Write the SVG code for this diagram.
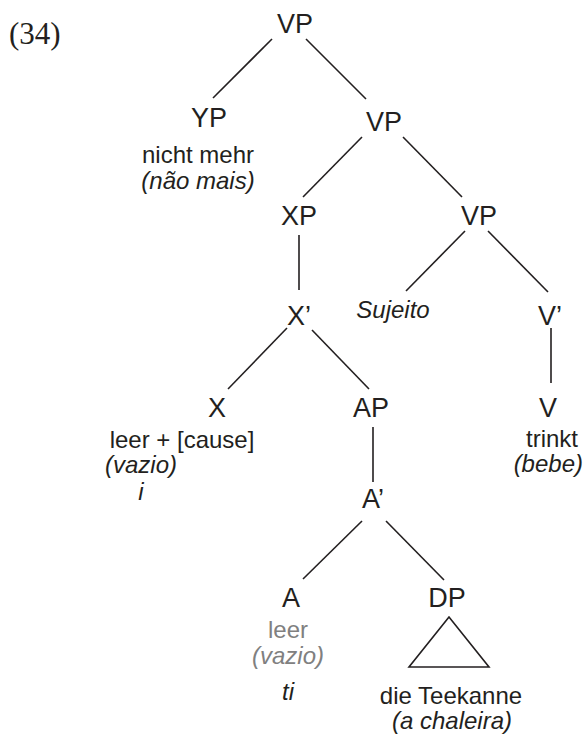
<svg xmlns="http://www.w3.org/2000/svg" width="586" height="735" viewBox="0 0 586 735">
<style>
  .lbl { font-family: "Liberation Sans", Arial, sans-serif; font-size: 27px; fill: #231f20; text-anchor: middle; }
  .sub { font-family: "Liberation Sans", Arial, sans-serif; font-size: 24px; fill: #231f20; text-anchor: middle; }
  .it { font-style: italic; }
  .gray { fill: #808080; }
  .num { font-family: "Liberation Serif", "Times New Roman", serif; font-size: 31px; fill: #231f20; }
  .edges line, .edges polygon { stroke: #231f20; stroke-width: 1.6; fill: none; }
</style>
<rect width="586" height="735" fill="#ffffff"/>
<text class="num" x="9" y="44">(34)</text>
<g class="edges" id="connectors">
  <line x1="272" y1="39" x2="213" y2="98"/>
  <line x1="306" y1="39" x2="366" y2="99"/>
  <line x1="362" y1="137" x2="303" y2="197"/>
  <line x1="403" y1="137" x2="462" y2="197"/>
  <line x1="299" y1="235" x2="299" y2="290"/>
  <line x1="465" y1="231" x2="406" y2="291"/>
  <line x1="488" y1="231" x2="548" y2="292"/>
  <line x1="551" y1="328" x2="551" y2="383"/>
  <line x1="287" y1="328" x2="228" y2="389"/>
  <line x1="312" y1="330" x2="369" y2="389"/>
  <line x1="373" y1="427" x2="373" y2="482"/>
  <line x1="362" y1="521" x2="303" y2="579"/>
  <line x1="386" y1="521" x2="444" y2="580"/>
  <polygon points="449,617 409,667 489,667"/>
</g>
<g id="vp1"><text class="lbl" x="295" y="33">VP</text></g>
<g id="yp">
  <text class="lbl" x="209" y="127">YP</text>
  <text class="sub" x="198" y="163">nicht mehr</text>
  <text class="sub it" x="198" y="189">(não mais)</text>
</g>
<g id="vp2"><text class="lbl" x="384" y="131">VP</text></g>
<g id="xp"><text class="lbl" x="299" y="225">XP</text></g>
<g id="vp3"><text class="lbl" x="479" y="225">VP</text></g>
<g id="xbar"><text class="lbl" x="299" y="325">X’</text></g>
<g id="sujeito"><text class="sub it" x="393" y="318">Sujeito</text></g>
<g id="vbar"><text class="lbl" x="550" y="325">V’</text></g>
<g id="x">
  <text class="lbl" x="217" y="417">X</text>
  <text class="sub" x="182" y="448">leer + [cause]</text>
  <text class="sub it" x="141" y="473">(vazio)</text>
  <text class="sub it" x="141" y="500">i</text>
</g>
<g id="ap"><text class="lbl" x="371" y="417">AP</text></g>
<g id="v">
  <text class="lbl" x="548" y="417">V</text>
  <text class="sub" x="552" y="447">trinkt</text>
  <text class="sub it" x="583" y="472" style="text-anchor:end">(bebe)</text>
</g>
<g id="abar"><text class="lbl" x="373" y="508">A’</text></g>
<g id="a">
  <text class="lbl" x="291" y="607">A</text>
  <text class="sub gray" x="288" y="638">leer</text>
  <text class="sub it gray" x="288" y="664">(vazio)</text>
  <text class="sub it" x="288" y="700">ti</text>
</g>
<g id="dp">
  <text class="lbl" x="447" y="607">DP</text>
  <text class="sub" x="451" y="704">die Teekanne</text>
  <text class="sub it" x="452" y="729">(a chaleira)</text>
</g>
</svg>
